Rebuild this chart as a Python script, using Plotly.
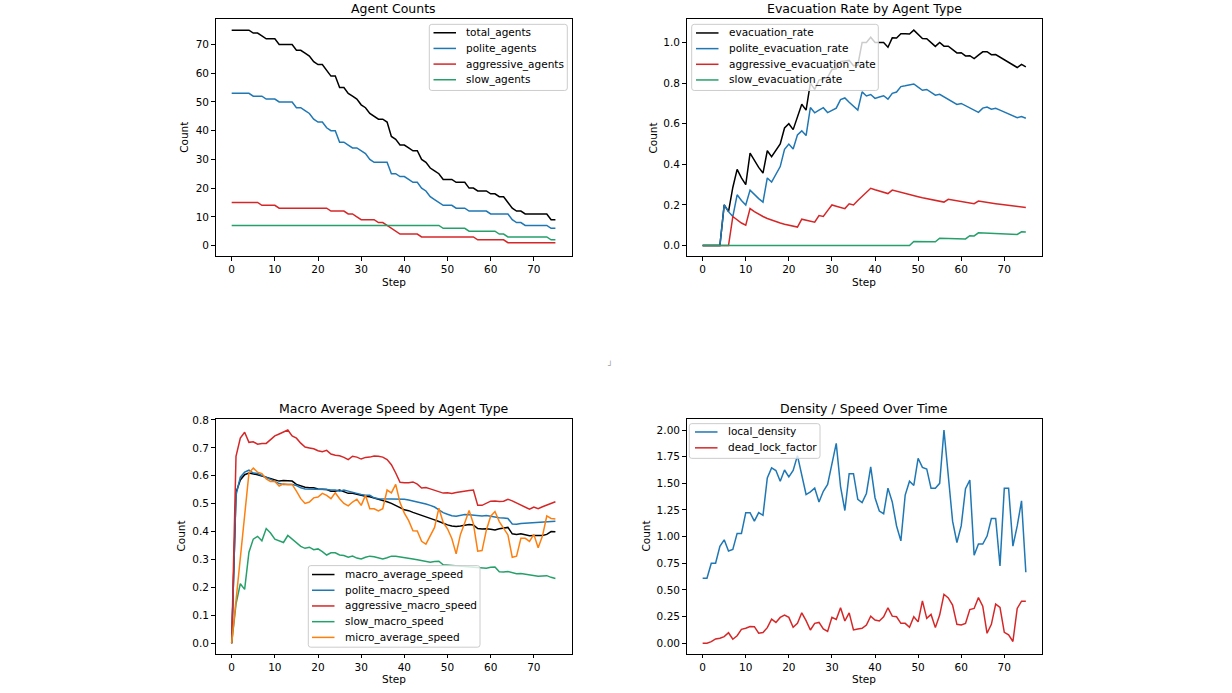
import plotly.graph_objects as go

# Dados por passo de simulação (0..75)
steps = list(range(76))

total_agents = [75, 75, 75, 75, 75, 74, 74, 73, 72, 72, 72, 70, 70, 70, 70, 68, 68, 67, 66, 64,
                63, 63, 61, 59, 59, 55, 55, 53, 52, 51, 49, 48, 46, 45, 44, 44, 43, 38, 37, 35,
                35, 34, 33, 33, 30, 29, 27, 26, 25, 23, 23, 23, 22, 22, 22, 20, 20, 19, 19, 19,
                18, 18, 17, 17, 15, 13, 12, 12, 11, 11, 11, 11, 11, 11, 9, 9]
polite_agents = [53, 53, 53, 53, 53, 52, 52, 52, 51, 51, 51, 50, 50, 50, 50, 48, 48, 47, 46, 44,
                 43, 43, 41, 40, 40, 36, 36, 35, 34, 34, 33, 32, 30, 29, 29, 29, 29, 25, 25, 24,
                 24, 23, 22, 22, 20, 19, 17, 16, 15, 14, 14, 14, 13, 13, 13, 12, 12, 12, 12, 12,
                 11, 11, 11, 11, 11, 9, 8, 8, 7, 7, 7, 7, 7, 7, 6, 6]
aggressive_agents = [15, 15, 15, 15, 15, 15, 15, 14, 14, 14, 14, 13, 13, 13, 13, 13, 13, 13, 13, 13,
                     13, 13, 13, 12, 12, 12, 12, 11, 11, 10, 9, 9, 9, 9, 8, 8, 7, 6, 5, 4,
                     4, 4, 4, 4, 3, 3, 3, 3, 3, 3, 3, 3, 3, 3, 3, 3, 3, 2, 2, 2,
                     2, 2, 2, 2, 1, 1, 1, 1, 1, 1, 1, 1, 1, 1, 1, 1]
slow_agents = [7, 7, 7, 7, 7, 7, 7, 7, 7, 7, 7, 7, 7, 7, 7, 7, 7, 7, 7, 7,
               7, 7, 7, 7, 7, 7, 7, 7, 7, 7, 7, 7, 7, 7, 7, 7, 7, 7, 7, 7,
               7, 7, 7, 7, 7, 7, 7, 7, 7, 6, 6, 6, 6, 6, 6, 5, 5, 5, 5, 5,
               5, 5, 4, 4, 3, 3, 3, 3, 3, 3, 3, 3, 3, 3, 2, 2]

evacuation_rate = [0, 0, 0, 0, 0, 0.2, 0.167, 0.286, 0.375, 0.333, 0.3, 0.455, 0.417, 0.385, 0.357,
                   0.467, 0.438, 0.471, 0.5, 0.579, 0.6, 0.571, 0.636, 0.696, 0.667, 0.8, 0.769,
                   0.815, 0.821, 0.828, 0.867, 0.871, 0.906, 0.909, 0.912, 0.886, 0.889, 1.0, 1.0,
                   1.026, 1.0, 1.0, 1.0, 0.977, 1.023, 1.022, 1.043, 1.043, 1.042, 1.061, 1.04,
                   1.02, 1.019, 1.0, 0.981, 1.0, 0.982, 0.982, 0.966, 0.949, 0.95, 0.934, 0.935,
                   0.921, 0.938, 0.954, 0.955, 0.94, 0.941, 0.928, 0.914, 0.901, 0.889, 0.877,
                   0.892, 0.88]
polite_evacuation_rate = [0, 0, 0, 0, 0, 0.2, 0.167, 0.143, 0.25, 0.222, 0.2, 0.273, 0.25, 0.231,
                          0.214, 0.333, 0.313, 0.353, 0.389, 0.474, 0.5, 0.476, 0.545, 0.565, 0.542,
                          0.68, 0.654, 0.667, 0.679, 0.655, 0.667, 0.677, 0.719, 0.727, 0.706, 0.686,
                          0.667, 0.757, 0.737, 0.744, 0.725, 0.732, 0.738, 0.721, 0.75, 0.756, 0.783,
                          0.787, 0.792, 0.796, 0.78, 0.765, 0.769, 0.755, 0.741, 0.745, 0.732, 0.719,
                          0.707, 0.695, 0.7, 0.689, 0.677, 0.667, 0.656, 0.677, 0.682, 0.672, 0.676,
                          0.667, 0.657, 0.648, 0.639, 0.63, 0.635, 0.627]
aggressive_evacuation_rate = [0, 0, 0, 0, 0, 0, 0, 0.143, 0.125, 0.111, 0.1, 0.182, 0.167, 0.154,
                              0.143, 0.133, 0.125, 0.118, 0.111, 0.105, 0.1, 0.095, 0.091, 0.13,
                              0.125, 0.12, 0.115, 0.148, 0.143, 0.172, 0.2, 0.194, 0.188, 0.182,
                              0.206, 0.2, 0.222, 0.243, 0.263, 0.282, 0.275, 0.268, 0.262, 0.256,
                              0.273, 0.267, 0.261, 0.255, 0.25, 0.245, 0.24, 0.235, 0.231, 0.226,
                              0.222, 0.218, 0.214, 0.228, 0.224, 0.22, 0.217, 0.213, 0.21, 0.206,
                              0.219, 0.215, 0.212, 0.209, 0.206, 0.203, 0.2, 0.197, 0.194, 0.192,
                              0.189, 0.187]
slow_evacuation_rate = [0, 0, 0, 0, 0, 0, 0, 0, 0, 0, 0, 0, 0, 0, 0, 0, 0, 0, 0, 0,
                        0, 0, 0, 0, 0, 0, 0, 0, 0, 0, 0, 0, 0, 0, 0, 0, 0, 0, 0, 0,
                        0, 0, 0, 0, 0, 0, 0, 0, 0, 0.02, 0.02, 0.0196, 0.0192, 0.0189, 0.0185,
                        0.0364, 0.0357, 0.0351, 0.0345, 0.0339, 0.0333, 0.0328, 0.0484, 0.0476,
                        0.0625, 0.0615, 0.0606, 0.0597, 0.0588, 0.058, 0.0571, 0.0563, 0.0556,
                        0.0548, 0.0676, 0.0667]

macro_average_speed = [0.0, 0.54, 0.585, 0.604, 0.61, 0.608, 0.604, 0.599, 0.595, 0.589, 0.587,
                       0.581, 0.583, 0.583, 0.581, 0.569, 0.563, 0.559, 0.557, 0.557, 0.553, 0.553,
                       0.551, 0.545, 0.545, 0.549, 0.542, 0.537, 0.537, 0.533, 0.53, 0.527, 0.525,
                       0.521, 0.516, 0.513, 0.507, 0.501, 0.492, 0.486, 0.478, 0.475, 0.469, 0.464,
                       0.459, 0.454, 0.448, 0.442, 0.436, 0.429, 0.424, 0.42, 0.418, 0.42, 0.423,
                       0.425, 0.424, 0.411, 0.409, 0.41, 0.408, 0.406, 0.41, 0.412, 0.415, 0.392,
                       0.39, 0.392, 0.388, 0.385, 0.386, 0.385, 0.386, 0.39, 0.4, 0.399]
polite_macro_speed = [0.0, 0.53, 0.595, 0.613, 0.62, 0.61, 0.608, 0.6, 0.595, 0.587, 0.58, 0.572,
                      0.569, 0.569, 0.569, 0.565, 0.557, 0.553, 0.553, 0.553, 0.553, 0.553, 0.551,
                      0.549, 0.549, 0.545, 0.549, 0.545, 0.542, 0.537, 0.533, 0.53, 0.53, 0.521,
                      0.518, 0.518, 0.518, 0.516, 0.516, 0.516, 0.516, 0.513, 0.51, 0.505, 0.502,
                      0.499, 0.494, 0.488, 0.478, 0.468, 0.462, 0.457, 0.455, 0.458, 0.461, 0.46,
                      0.459, 0.457, 0.456, 0.458, 0.455, 0.452, 0.45, 0.449, 0.447, 0.427, 0.426,
                      0.429, 0.43, 0.432, 0.433, 0.433, 0.435, 0.436, 0.437, 0.437]
aggressive_macro_speed = [0.0, 0.67, 0.735, 0.756, 0.72, 0.722, 0.713, 0.716, 0.716, 0.731, 0.743,
                          0.75, 0.756, 0.764, 0.743, 0.735, 0.717, 0.703, 0.7, 0.697, 0.69, 0.686,
                          0.691, 0.678, 0.674, 0.672, 0.666, 0.658, 0.67, 0.667, 0.66, 0.666, 0.667,
                          0.671, 0.67, 0.667, 0.658, 0.64, 0.61, 0.577, 0.575, 0.575, 0.578, 0.57,
                          0.556, 0.558, 0.553, 0.548, 0.542, 0.538, 0.539, 0.537, 0.54, 0.543, 0.545,
                          0.547, 0.549, 0.494, 0.494, 0.502, 0.509, 0.51, 0.508, 0.509, 0.516, 0.51,
                          0.503, 0.496, 0.488, 0.48, 0.488, 0.482, 0.489, 0.495, 0.501, 0.507]
slow_macro_speed = [0.0, 0.14, 0.213, 0.193, 0.326, 0.373, 0.383, 0.367, 0.411, 0.395, 0.373, 0.367,
                    0.361, 0.386, 0.373, 0.359, 0.347, 0.34, 0.344, 0.335, 0.338, 0.328, 0.316,
                    0.324, 0.324, 0.316, 0.314, 0.308, 0.312, 0.305, 0.302, 0.308, 0.312, 0.31,
                    0.305, 0.302, 0.306, 0.312, 0.312, 0.31, 0.308, 0.305, 0.302, 0.299, 0.296,
                    0.292, 0.29, 0.293, 0.294, 0.281, 0.28, 0.279, 0.278, 0.277, 0.276, 0.274,
                    0.273, 0.271, 0.27, 0.269, 0.272, 0.273, 0.256, 0.255, 0.257, 0.253, 0.249,
                    0.25, 0.248, 0.246, 0.243, 0.24, 0.241, 0.242, 0.236, 0.232]
micro_average_speed = [0.0, 0.153, 0.305, 0.458, 0.61, 0.628, 0.613, 0.608, 0.589, 0.58, 0.58, 0.563,
                       0.571, 0.569, 0.569, 0.545, 0.518, 0.501, 0.506, 0.521, 0.524, 0.537, 0.53,
                       0.518, 0.539, 0.518, 0.501, 0.492, 0.506, 0.516, 0.494, 0.53, 0.482, 0.482,
                       0.474, 0.482, 0.549, 0.539, 0.569, 0.504, 0.466, 0.439, 0.403, 0.402, 0.365,
                       0.355, 0.385, 0.415, 0.484, 0.433, 0.41, 0.375, 0.32, 0.39, 0.432, 0.476,
                       0.428, 0.33, 0.332, 0.405, 0.455, 0.472, 0.436, 0.41, 0.388, 0.308, 0.312,
                       0.376, 0.376, 0.365, 0.39, 0.342, 0.384, 0.456, 0.447, 0.445]

local_density = [0.61, 0.61, 0.75, 0.75, 0.91, 0.97, 0.865, 0.88, 1.03, 1.03, 1.225, 1.225, 1.145,
                 1.225, 1.2, 1.55, 1.645, 1.62, 1.52, 1.625, 1.56, 1.62, 1.76, 1.565, 1.395, 1.42,
                 1.455, 1.325, 1.425, 1.49, 1.67, 1.875, 1.47, 1.245, 1.59, 1.59, 1.35, 1.32, 1.405,
                 1.655, 1.365, 1.24, 1.215, 1.455, 1.325, 1.1, 0.96, 1.39, 1.52, 1.48, 1.735, 1.65,
                 1.635, 1.455, 1.455, 1.5, 2.0, 1.58, 1.145, 0.945, 1.1, 1.45, 1.53, 0.825, 0.93,
                 0.93, 1.005, 1.17, 1.17, 0.725, 1.455, 1.455, 0.91, 1.1, 1.335, 0.665]
dead_lock_factor = [0.0, 0.0, 0.015, 0.04, 0.047, 0.062, 0.098, 0.037, 0.07, 0.13, 0.14, 0.157,
                    0.155, 0.093, 0.1, 0.146, 0.225, 0.195, 0.242, 0.264, 0.242, 0.149, 0.186,
                    0.285, 0.211, 0.124, 0.186, 0.195, 0.133, 0.11, 0.242, 0.223, 0.332, 0.208,
                    0.285, 0.124, 0.133, 0.14, 0.17, 0.254, 0.217, 0.208, 0.248, 0.332, 0.254,
                    0.248, 0.186, 0.186, 0.149, 0.248, 0.2, 0.397, 0.233, 0.27, 0.146, 0.264,
                    0.459, 0.425, 0.357, 0.177, 0.171, 0.186, 0.316, 0.326, 0.428, 0.347, 0.093,
                    0.177, 0.366, 0.335, 0.102, 0.078, 0.016, 0.326, 0.394, 0.394]

BLACK = "black"
BLUE = "#1f77b4"
RED = "#d62728"
GREEN = "#26a06b"
ORANGE = "#ff7f0e"
FONT = "DejaVu Sans"

# um grupo por painel: (nome, valores, cor)
panels = [
    [("total_agents", total_agents, BLACK), ("polite_agents", polite_agents, BLUE),
     ("aggressive_agents", aggressive_agents, RED), ("slow_agents", slow_agents, GREEN)],
    [("evacuation_rate", evacuation_rate, BLACK),
     ("polite_evacuation_rate", polite_evacuation_rate, BLUE),
     ("aggressive_evacuation_rate", aggressive_evacuation_rate, RED),
     ("slow_evacuation_rate", slow_evacuation_rate, GREEN)],
    [("macro_average_speed", macro_average_speed, BLACK),
     ("polite_macro_speed", polite_macro_speed, BLUE),
     ("aggressive_macro_speed", aggressive_macro_speed, RED),
     ("slow_macro_speed", slow_macro_speed, GREEN),
     ("micro_average_speed", micro_average_speed, ORANGE)],
    [("local_density", local_density, BLUE), ("dead_lock_factor", dead_lock_factor, RED)],
]

W, H = 1232, 693


def px(x):
    return x / W


def py(y):
    return 1 - y / H


fig = go.Figure()
for i, group in enumerate(panels):
    sfx = "" if i == 0 else str(i + 1)
    for name, vals, color in group:
        fig.add_trace(go.Scatter(x=steps, y=vals, mode="lines", name=name,
                                 xaxis="x" + sfx, yaxis="y" + sfx, showlegend=False,
                                 line=dict(color=color, width=1.5)))

# caixas dos eixos em pixels: (esq, dir, topo, base)
boxes = [(215.5, 571.6, 13.5, 252.5), (686.5, 1042, 13.5, 252.5),
         (215.5, 571.6, 417.0, 653.5), (686.5, 1042, 417.0, 653.5)]
y_ranges = [[-3.75, 78.75], [-0.053, 1.114], [-0.0382, 0.8022], [-0.1, 2.1]]
y_ticks = [(10, None), (0.2, ".1f"), (0.1, ".1f"), (0.25, ".2f")]

axis_common = dict(showgrid=False, zeroline=False, showline=True, mirror=True,
                   linecolor="black", linewidth=0.8, ticks="outside", ticklen=3.5,
                   tickwidth=0.8, tickcolor="black",
                   tickfont=dict(family=FONT, size=10.5, color="black"))

layout = {}
for i, (l, r, t, b) in enumerate(boxes):
    sfx = "" if i == 0 else str(i + 1)
    dt, fmt = y_ticks[i]
    layout["xaxis" + sfx] = dict(axis_common, domain=[px(l), px(r)], range=[-3.75, 78.75],
                                 tick0=0, dtick=10, anchor="y" + sfx)
    yax = dict(axis_common, domain=[py(b), py(t)], range=y_ranges[i],
               tick0=0, dtick=dt, anchor="x" + sfx)
    if fmt:
        yax["tickformat"] = fmt
    layout["yaxis" + sfx] = yax

titles = ["Agent Counts", "Evacuation Rate by Agent Type",
          "Macro Average Speed by Agent Type", "Density / Speed Over Time"]
count_x = [184, 652.7, 181, 646]
annotations = []
shapes = []
for i, (l, r, t, b) in enumerate(boxes):
    cx = px((l + r) / 2)
    annotations.append(dict(text=titles[i], x=cx, y=py(t - 10.5), xref="paper", yref="paper",
                            showarrow=False, xanchor="center", yanchor="middle",
                            font=dict(family=FONT, size=12.5, color="black")))
    annotations.append(dict(text="Step", x=cx, y=py(b + 25.5), xref="paper", yref="paper",
                            showarrow=False, xanchor="center", yanchor="middle",
                            font=dict(family=FONT, size=10.5, color="black")))
    annotations.append(dict(text="Count", x=px(count_x[i]), y=py((t + b) / 2),
                            xref="paper", yref="paper", showarrow=False, textangle=-90,
                            xanchor="center", yanchor="middle",
                            font=dict(family=FONT, size=10.5, color="black")))

# legendas no estilo do matplotlib: (esq, topo, dir, base, x da linha, primeira linha, passo)
legend_boxes = [(429.3, 18.5, 567.3, 85.2, 433.5, 27.0, 15.8),
                (691.7, 18.5, 878.3, 85.2, 696.0, 27.2, 15.8),
                (308.3, 564.5, 480.0, 646.8, 312.0, 573.5, 15.85),
                (689.3, 421.3, 820.0, 456.3, 695.0, 429.7, 16.0)]
for group, (l, t, r, b, lx, y0, dy) in zip(panels, legend_boxes):
    rad = 2.5
    path = (f"M {px(l + rad)},{py(t)} L {px(r - rad)},{py(t)} Q {px(r)},{py(t)} {px(r)},{py(t + rad)} "
            f"L {px(r)},{py(b - rad)} Q {px(r)},{py(b)} {px(r - rad)},{py(b)} "
            f"L {px(l + rad)},{py(b)} Q {px(l)},{py(b)} {px(l)},{py(b - rad)} "
            f"L {px(l)},{py(t + rad)} Q {px(l)},{py(t)} {px(l + rad)},{py(t)} Z")
    shapes.append(dict(type="path", path=path, xref="paper", yref="paper", layer="above",
                       fillcolor="rgba(255,255,255,0.8)", line=dict(color="#cccccc", width=1)))
    for k, (name, _, color) in enumerate(group):
        yy = y0 + k * dy
        shapes.append(dict(type="line", xref="paper", yref="paper", layer="above",
                           x0=px(lx), x1=px(lx + 22.5), y0=py(yy), y1=py(yy),
                           line=dict(color=color, width=1.5)))
        annotations.append(dict(text=name, x=px(lx + 30.5), y=py(yy), xref="paper", yref="paper",
                                showarrow=False, xanchor="left", yanchor="middle",
                                font=dict(family=FONT, size=10.5, color="black")))

# pequena marca de redimensionamento no centro da imagem
annotations.append(dict(text="┘", x=px(610), y=py(362), xref="paper", yref="paper",
                        showarrow=False, font=dict(family=FONT, size=8, color="#9a9a9a")))

fig.update_layout(width=W, height=H, margin=dict(l=0, r=0, t=0, b=0),
                  paper_bgcolor="white", plot_bgcolor="white",
                  font=dict(family=FONT, color="black"), showlegend=False,
                  annotations=annotations, shapes=shapes, **layout)

fig.write_html("out.html", config={"displayModeBar": False},
               post_script="document.body.style.margin='0';document.body.style.overflow='hidden';")
